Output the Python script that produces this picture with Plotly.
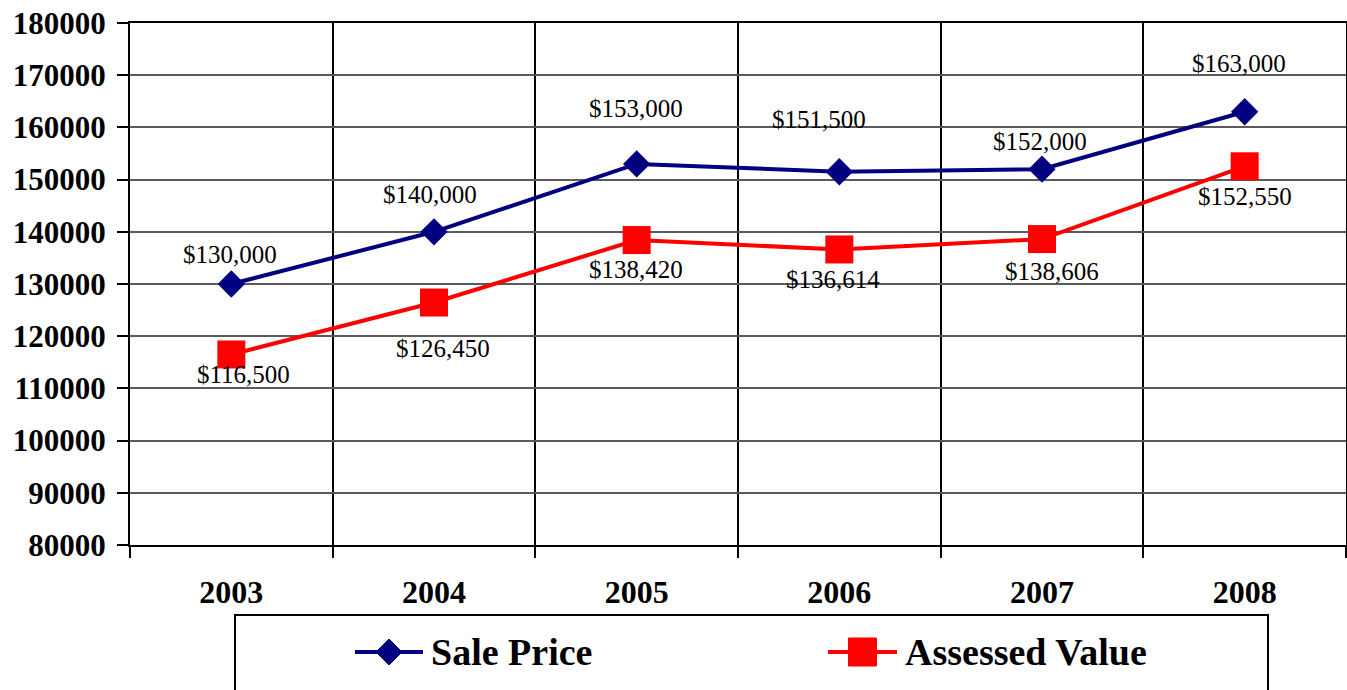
import plotly.graph_objects as go

years = ["2003", "2004", "2005", "2006", "2007", "2008"]
sale_price = [130000, 140000, 153000, 151500, 152000, 163000]
assessed_value = [116500, 126450, 138420, 136614, 138606, 152550]
series_names = ["Sale Price", "Assessed Value"]
y_ticks = list(range(80000, 180001, 10000))

# label offsets (pixels) for the hand placed data labels
sale_shift = [(-1, 30), (-4, 37), (-1, 55), (-20, 52), (-2, 28), (-6, 48)]
assessed_shift = [(12, -20), (9, -46), (-1, -29), (-6, -30), (10, -32), (0, -30)]

serif = "Liberation Serif"
navy = "#000080"
red = "#ff0000"

fig = go.Figure()

fig.add_trace(go.Scatter(
    x=years, y=sale_price, name=series_names[0], mode="lines+markers",
    line=dict(color=navy, width=4),
    marker=dict(symbol="diamond", size=21, color=navy),
    showlegend=False))

fig.add_trace(go.Scatter(
    x=years, y=assessed_value, name=series_names[1], mode="lines+markers",
    line=dict(color=red, width=4),
    marker=dict(symbol="square", size=28, color=red),
    showlegend=False))

# ---- data labels ----
for vals, shifts in [(sale_price, sale_shift), (assessed_value, assessed_shift)]:
    for i, (v, (dx, dy)) in enumerate(zip(vals, shifts)):
        fig.add_annotation(x=i, y=v, xref="x", yref="y",
                           text="&#36;" + "{:,}".format(v), showarrow=False,
                           xshift=dx, yshift=dy,
                           font=dict(family=serif, size=25, color="black"))

# ---- legend drawn by hand (box + symbols + text) ----
L, T, W, H = 130, 23, 1216, 522


def px_x(p):
    return (p - L) / W


def px_y(p):
    return (T + H - p) / H


fig.add_shape(type="rect", xref="paper", yref="paper",
              x0=px_x(235), x1=px_x(1268), y0=px_y(615), y1=px_y(720),
              line=dict(color="black", width=2), fillcolor="white", layer="above")

legend_items = [
    (series_names[0], navy, "diamond", 355, 423),
    (series_names[1], red, "square", 828, 897),
]
for name, col, sym, x0, x1 in legend_items:
    fig.add_shape(type="line", xref="paper", yref="paper",
                  x0=px_x(x0), x1=px_x(x1), y0=px_y(652), y1=px_y(652),
                  line=dict(color=col, width=4), layer="above")
    cx = px_x((x0 + x1) / 2)
    cy = px_y(652)
    if sym == "diamond":
        path = "M-13,0 L0,-13 L13,0 L0,13 Z"
    else:
        path = "M-14,-14 L14,-14 L14,14 L-14,14 Z"
    fig.add_shape(type="path", xref="paper", yref="paper",
                  xsizemode="pixel", ysizemode="pixel", xanchor=cx, yanchor=cy,
                  path=path, fillcolor=col, line=dict(color=col, width=1), layer="above")
    fig.add_annotation(x=px_x(x1 + 6), y=cy, xref="paper", yref="paper",
                       xanchor="left", yanchor="middle", text="<b>" + name + "</b>",
                       showarrow=False, font=dict(family=serif, size=38, color="black"))

fig.update_layout(
    width=1347, height=690,
    paper_bgcolor="white", plot_bgcolor="white",
    margin=dict(l=L, r=1347 - L - W, t=T, b=690 - T - H, autoexpand=False),
    font=dict(family=serif, color="black"),
    xaxis=dict(
        type="category", range=[-0.5, 5.5],
        tickvals=years, ticktext=["<b>{}</b>".format(y) for y in years],
        tickson="boundaries", ticks="outside", ticklen=11, tickwidth=2, tickcolor="black",
        showgrid=True, gridcolor="black", gridwidth=2,
        showline=True, linecolor="black", linewidth=2, mirror=True,
        tickfont=dict(family=serif, size=32, color="black"),
        ticklabelstandoff=18, automargin=False,
        fixedrange=True,
    ),
    yaxis=dict(
        range=[80000, 180000], tickvals=y_ticks,
        ticktext=["<b>{}</b>".format(t) for t in y_ticks],
        ticks="outside", ticklen=11, tickwidth=2, tickcolor="black",
        showgrid=True, gridcolor="#5a5a5a", gridwidth=1.5,
        showline=True, linecolor="black", linewidth=2, mirror=True,
        zeroline=False,
        tickfont=dict(family=serif, size=31, color="black"),
        ticklabelstandoff=5, automargin=False,
        fixedrange=True,
    ),
)

# page body has an 8px default margin; drop it so the figure fills the window
fig.write_html("out.html", config={"displayModeBar": False},
               post_script="document.body.style.margin = '0';")
